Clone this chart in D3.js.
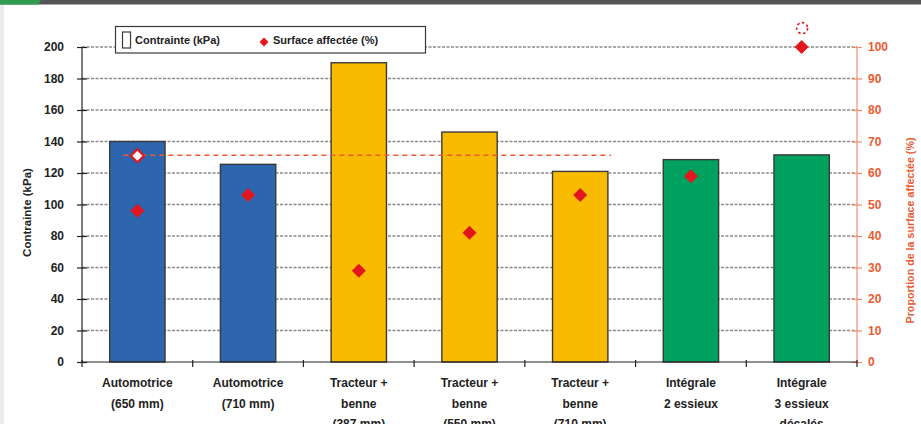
<!DOCTYPE html>
<html>
<head>
<meta charset="utf-8">
<script src="https://cdn.jsdelivr.net/npm/d3@7"></script>
<style>
  html, body { margin: 0; padding: 0; background: #fff; }
  svg { display: block; font-family: "Liberation Sans", Arial, sans-serif; }
</style>
</head>
<body>
<svg id="chart" width="921" height="424"></svg>
<script>
// Machines compared (x-axis labels, one line per entry)
const categories = [
  ["Automotrice", "(650 mm)"],
  ["Automotrice", "(710 mm)"],
  ["Tracteur +", "benne", "(387 mm)"],
  ["Tracteur +", "benne", "(550 mm)"],
  ["Tracteur +", "benne", "(710 mm)"],
  ["Intégrale", "2 essieux"],
  ["Intégrale", "3 essieux", "décalés"]
];
// Ground pressure (kPa), left axis
const contrainte = [140, 125.5, 190, 146, 121, 128.5, 131.5];
// Share of surface affected (%), right axis
const surface = [48, 53, 29, 41, 53, 59, 100];
// Machine family of each bar
const family = ["auto", "auto", "tracteur", "tracteur", "tracteur", "integrale", "integrale"];
// Reference level (%) shown as a hollow marker and a dashed line
const referenceValue = 65.5;
const referenceSpan = [0, 4];
// Off-scale value (%) shown as a dashed ring above the last bar
const offScale = { index: 6, value: 106 };

const leftTicks = [0, 20, 40, 60, 80, 100, 120, 140, 160, 180, 200];
const rightTicks = [0, 10, 20, 30, 40, 50, 60, 70, 80, 90, 100];

const familyColor = { auto: "#2d65ae", tracteur: "#f9bb00", integrale: "#00a05e" };
const red = "#e3161f";
const orange = "#ec5a32";

const svg = d3.select("#chart");
const W = 921, H = 424;
const plot = { left: 82, right: 857, top: 47, bottom: 362 };

// page frame: grey strip on the left, dark header with green tab
svg.append("rect").attr("x", 0).attr("y", 0).attr("width", 4).attr("height", H).attr("fill", "#e9ecea");
svg.append("rect").attr("x", 0).attr("y", 0).attr("width", W).attr("height", 4.5).attr("fill", "#555557");
svg.append("path").attr("d", "M0,0 L41,0 L38,4.5 L0,4.5 Z").attr("fill", "#2f9d50");

const x = d3.scaleBand()
  .domain(d3.range(categories.length))
  .range([plot.left, plot.right])
  .paddingInner(0.5)
  .paddingOuter(0.25);
const yL = d3.scaleLinear().domain([0, 200]).range([plot.bottom, plot.top]);
const yR = d3.scaleLinear().domain([0, 100]).range([plot.bottom, plot.top]);

// horizontal grid lines
svg.append("g").selectAll("line").data(leftTicks.filter(d => d > 0)).join("line")
  .attr("x1", plot.left).attr("x2", plot.right)
  .attr("y1", d => yL(d)).attr("y2", d => yL(d))
  .attr("stroke", "#8a8a8a").attr("stroke-width", 1.3)
  .attr("stroke-dasharray", "3,1.5");

// bars
svg.append("g").selectAll("rect").data(contrainte).join("rect")
  .attr("x", (d, i) => x(i))
  .attr("y", d => yL(d))
  .attr("width", x.bandwidth())
  .attr("height", d => yL(0) - yL(d))
  .attr("fill", (d, i) => familyColor[family[i]])
  .attr("stroke", "#3a3a3a").attr("stroke-width", 1.4);

// left axis
const axL = svg.append("g").attr("transform", `translate(${plot.left},0)`)
  .call(d3.axisLeft(yL).tickValues(leftTicks).tickSize(5).tickPadding(13));
axL.select(".domain").remove();
axL.append("line").attr("x1", 0).attr("x2", 0).attr("y1", plot.top).attr("y2", plot.bottom)
  .attr("stroke", "#222").attr("stroke-width", 1.2);
axL.selectAll(".tick line").attr("x1", 5).attr("x2", -5).attr("stroke", "#222").attr("stroke-width", 1.2);
axL.selectAll(".tick text").attr("font-size", 12).attr("font-weight", "bold")
  .attr("fill", "#222").attr("font-family", "Liberation Sans, Arial, sans-serif").attr("x", -18);

// right axis
const axR = svg.append("g").attr("transform", `translate(${plot.right},0)`)
  .call(d3.axisRight(yR).tickValues(rightTicks).tickSize(5).tickPadding(8));
axR.select(".domain").remove();
axR.append("line").attr("x1", 0).attr("x2", 0).attr("y1", plot.top).attr("y2", plot.bottom)
  .attr("stroke", "#f29a7c").attr("stroke-width", 1.3);
axR.selectAll(".tick line").attr("x1", -5).attr("x2", 5).attr("stroke", "#f08a68").attr("stroke-width", 1.2);
axR.selectAll(".tick text").attr("font-size", 12).attr("font-weight", "bold")
  .attr("fill", orange).attr("font-family", "Liberation Sans, Arial, sans-serif").attr("x", 11);

// bottom axis with ticks on category boundaries
svg.append("line").attr("x1", plot.left).attr("x2", plot.right)
  .attr("y1", plot.bottom).attr("y2", plot.bottom)
  .attr("stroke", "#222").attr("stroke-width", 1.2);
const step = x.step();
const boundaries = d3.range(categories.length + 1).map(i =>
  i < categories.length ? x(i) - step * 0.25 : x(i - 1) + x.bandwidth() + step * 0.25);
svg.append("g").selectAll("line").data(boundaries).join("line")
  .attr("x1", d => d).attr("x2", d => d)
  .attr("y1", plot.bottom - 2).attr("y2", plot.bottom + 5)
  .attr("stroke", "#222").attr("stroke-width", 1.2);

// category labels
const lab = svg.append("g").attr("font-size", 12).attr("font-weight", "bold").attr("fill", "#222")
  .attr("text-anchor", "middle");
categories.forEach((lines, i) => {
  lines.forEach((t, j) => {
    lab.append("text")
      .attr("x", x(i) + x.bandwidth() / 2)
      .attr("y", 387 + j * 20.5)
      .text(t);
  });
});

// axis titles
svg.append("text")
  .attr("transform", `translate(31,${(plot.top + plot.bottom) / 2 + 8}) rotate(-90)`)
  .attr("text-anchor", "middle").attr("font-size", 11.5).attr("font-weight", "bold").attr("fill", "#222")
  .text("Contrainte (kPa)");
svg.append("text")
  .attr("transform", `translate(914,${(plot.top + plot.bottom) / 2 + 26}) rotate(-90)`)
  .attr("text-anchor", "middle").attr("font-size", 10.7).attr("font-weight", "bold").attr("fill", orange)
  .text("Proportion de la surface affectée (%)");

// reference dashed line
const refX0 = x(referenceSpan[0]) + x.bandwidth() / 2 - 14;
const refX1 = x(referenceSpan[1]) + x.bandwidth() + 3;
svg.append("line")
  .attr("x1", refX0).attr("x2", refX1)
  .attr("y1", yR(referenceValue) - 0.5).attr("y2", yR(referenceValue) - 0.5)
  .attr("stroke", orange).attr("stroke-width", 1.5).attr("stroke-dasharray", "5,4");

const diamond = r => `M0,${-r} L${r},0 L0,${r} L${-r},0 Z`;

// hollow reference marker
svg.append("path")
  .attr("d", diamond(6.5))
  .attr("transform", `translate(${x(referenceSpan[0]) + x.bandwidth() / 2},${yR(referenceValue)})`)
  .attr("fill", "#fff").attr("stroke", red).attr("stroke-width", 2.2);

// surface markers
svg.append("g").selectAll("path").data(surface).join("path")
  .attr("d", diamond(7))
  .attr("transform", (d, i) => `translate(${x(i) + x.bandwidth() / 2},${yR(d)})`)
  .attr("fill", red);

// off-scale dashed ring
svg.append("circle")
  .attr("cx", x(offScale.index) + x.bandwidth() / 2 + 0.5)
  .attr("cy", yR(offScale.value))
  .attr("r", 5.5)
  .attr("fill", "none").attr("stroke", red).attr("stroke-width", 1.6)
  .attr("stroke-dasharray", "2.5,2.5");

// legend
const lg = svg.append("g");
lg.append("rect").attr("x", 115.5).attr("y", 26.5).attr("width", 310).attr("height", 26.5)
  .attr("fill", "#fff").attr("stroke", "#3a3a3a").attr("stroke-width", 1.2);
lg.append("rect").attr("x", 122.5).attr("y", 32).attr("width", 8).attr("height", 16)
  .attr("fill", "#fff").attr("stroke", "#3a3a3a").attr("stroke-width", 1.2);
lg.append("text").attr("x", 135).attr("y", 43.5).attr("font-size", 11).attr("font-weight", "bold")
  .attr("fill", "#222").text("Contrainte (kPa)");
lg.append("path").attr("d", diamond(4.5)).attr("transform", "translate(264,42)").attr("fill", red);
lg.append("text").attr("x", 273).attr("y", 43.5).attr("font-size", 11).attr("font-weight", "bold")
  .attr("fill", "#222").text("Surface affectée (%)");
</script>
</body>
</html>
